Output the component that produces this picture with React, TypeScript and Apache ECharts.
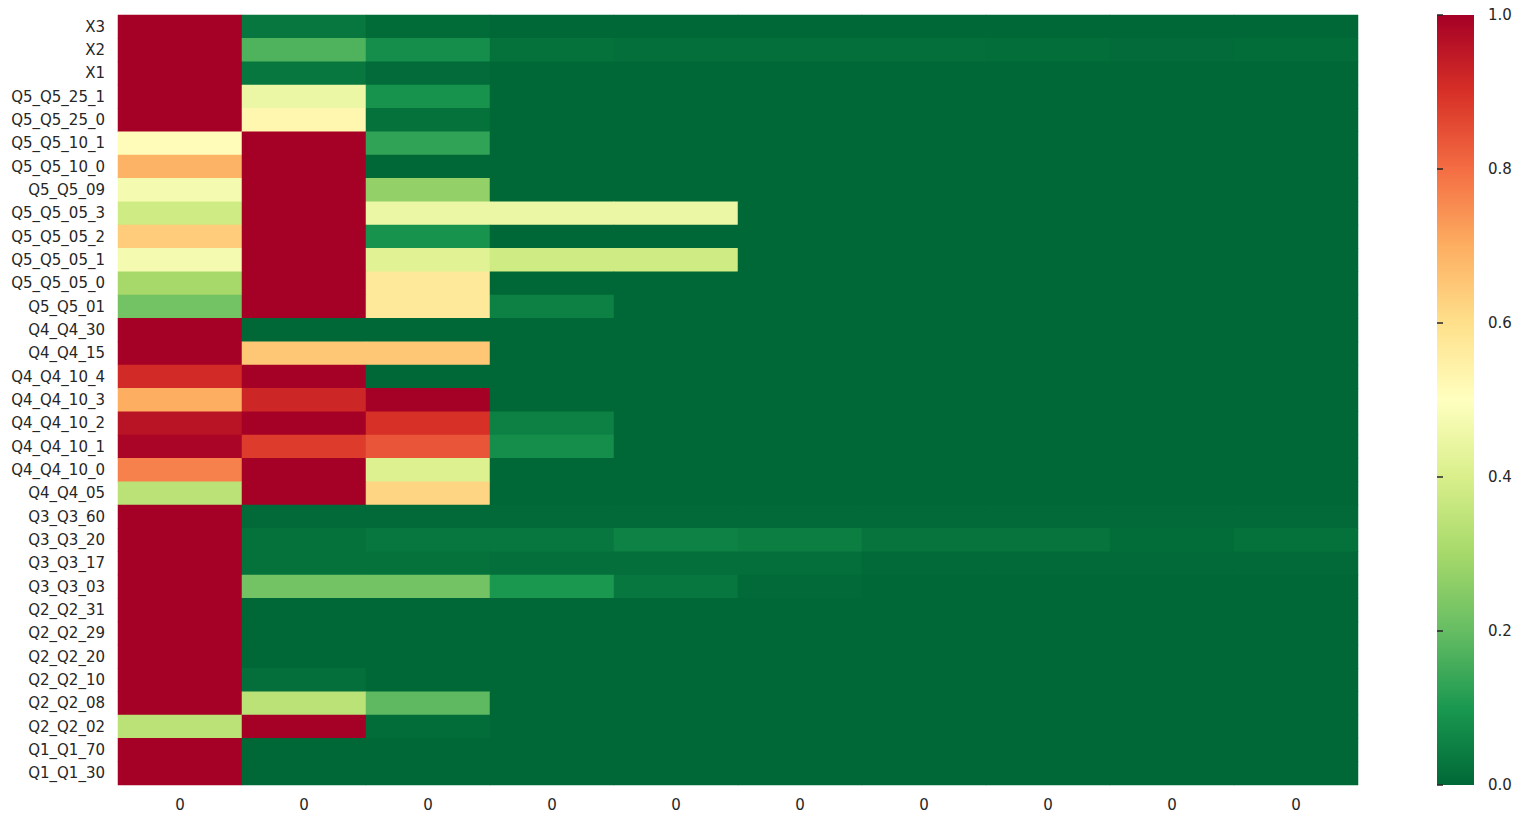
import React, { useEffect, useRef } from "react";
import * as echarts from "echarts";

const rowLabels: string[] = [
  "X3", "X2", "X1", "Q5_Q5_25_1", "Q5_Q5_25_0", "Q5_Q5_10_1", "Q5_Q5_10_0", "Q5_Q5_09",
  "Q5_Q5_05_3", "Q5_Q5_05_2", "Q5_Q5_05_1", "Q5_Q5_05_0", "Q5_Q5_01", "Q4_Q4_30", "Q4_Q4_15",
  "Q4_Q4_10_4", "Q4_Q4_10_3", "Q4_Q4_10_2", "Q4_Q4_10_1", "Q4_Q4_10_0", "Q4_Q4_05",
  "Q3_Q3_60", "Q3_Q3_20", "Q3_Q3_17", "Q3_Q3_03", "Q2_Q2_31", "Q2_Q2_29", "Q2_Q2_20",
  "Q2_Q2_10", "Q2_Q2_08", "Q2_Q2_02", "Q1_Q1_70", "Q1_Q1_30",
];

const colLabels: string[] = ["0", "0", "0", "0", "0", "0", "0", "0", "0", "0"];

const colorbarTicks: number[] = [0, 0.2, 0.4, 0.6, 0.8, 1.0];

// RdYlGn reversed: value 0 -> dark green, value 1 -> dark red
const palette: string[] = [
  "#006837", "#1a9850", "#66bd63", "#a6d96a", "#d9ef8b", "#ffffbf",
  "#fee08b", "#fdae61", "#f46d43", "#d73027", "#a50026",
];

const rowX3 = [1, 0.03, 0.008, 0, 0, 0, 0, 0, 0, 0];
const rowX2 = [1, 0.17, 0.08, 0.02, 0.015, 0.015, 0.015, 0.012, 0.006, 0.01];
const rowX1 = [1, 0.03, 0.006, 0, 0, 0, 0, 0, 0, 0];
const rowQ5_25_1 = [1, 0.45, 0.09, 0, 0, 0, 0, 0, 0, 0];
const rowQ5_25_0 = [1, 0.53, 0.02, 0, 0, 0, 0, 0, 0, 0];
const rowQ5_10_1 = [0.51, 1, 0.13, 0, 0, 0, 0, 0, 0, 0];
const rowQ5_10_0 = [0.69, 1, 0.0, 0, 0, 0, 0, 0, 0, 0];
const rowQ5_09 = [0.47, 1, 0.27, 0, 0, 0, 0, 0, 0, 0];
const rowQ5_05_3 = [0.38, 1, 0.45, 0.45, 0.45, 0, 0, 0, 0, 0];
const rowQ5_05_2 = [0.64, 1, 0.09, 0, 0, 0, 0, 0, 0, 0];
const rowQ5_05_1 = [0.47, 1, 0.42, 0.38, 0.38, 0, 0, 0, 0, 0];
const rowQ5_05_0 = [0.3, 1, 0.57, 0, 0, 0, 0, 0, 0, 0];
const rowQ5_01 = [0.22, 1, 0.57, 0.05, 0, 0, 0, 0, 0, 0];
const rowQ4_30 = [1, 0, 0, 0, 0, 0, 0, 0, 0, 0];
const rowQ4_15 = [1, 0.65, 0.65, 0, 0, 0, 0, 0, 0, 0];
const rowQ4_10_4 = [0.91, 1, 0, 0, 0, 0, 0, 0, 0, 0];
const rowQ4_10_3 = [0.7, 0.92, 1, 0, 0, 0, 0, 0, 0, 0];
const rowQ4_10_2 = [0.96, 1, 0.9, 0.05, 0, 0, 0, 0, 0, 0];
const rowQ4_10_1 = [0.99, 0.88, 0.84, 0.08, 0, 0, 0, 0, 0, 0];
const rowQ4_10_0 = [0.77, 1, 0.41, 0, 0, 0, 0, 0, 0, 0];
const rowQ4_05 = [0.34, 1, 0.62, 0, 0, 0, 0, 0, 0, 0];
const rowQ3_60 = [1, 0.005, 0.005, 0.005, 0.005, 0.005, 0.005, 0.005, 0.005, 0.005];
const rowQ3_20 = [1, 0.02, 0.03, 0.03, 0.055, 0.045, 0.025, 0.025, 0.01, 0.02];
const rowQ3_17 = [1, 0.02, 0.02, 0.015, 0.015, 0.015, 0.005, 0.005, 0.005, 0.005];
const rowQ3_03 = [1, 0.22, 0.22, 0.1, 0.03, 0.005, 0, 0, 0, 0];
const rowQ2_31 = [1, 0, 0, 0, 0, 0, 0, 0, 0, 0];
const rowQ2_29 = [1, 0, 0, 0, 0, 0, 0, 0, 0, 0];
const rowQ2_20 = [1, 0, 0, 0, 0, 0, 0, 0, 0, 0];
const rowQ2_10 = [1, 0.015, 0, 0, 0, 0, 0, 0, 0, 0];
const rowQ2_08 = [1, 0.34, 0.19, 0, 0, 0, 0, 0, 0, 0];
const rowQ2_02 = [0.34, 1, 0.01, 0, 0, 0, 0, 0, 0, 0];
const rowQ1_70 = [1, 0, 0, 0, 0, 0, 0, 0, 0, 0];
const rowQ1_30 = [1, 0, 0, 0, 0, 0, 0, 0, 0, 0];

const matrix: number[][] = [
  rowX3, rowX2, rowX1, rowQ5_25_1, rowQ5_25_0, rowQ5_10_1, rowQ5_10_0, rowQ5_09,
  rowQ5_05_3, rowQ5_05_2, rowQ5_05_1, rowQ5_05_0, rowQ5_01, rowQ4_30, rowQ4_15,
  rowQ4_10_4, rowQ4_10_3, rowQ4_10_2, rowQ4_10_1, rowQ4_10_0, rowQ4_05,
  rowQ3_60, rowQ3_20, rowQ3_17, rowQ3_03, rowQ2_31, rowQ2_29, rowQ2_20,
  rowQ2_10, rowQ2_08, rowQ2_02, rowQ1_70, rowQ1_30,
];

const TEXT = "#262626";
const FONT = "DejaVu Sans";
const FS = 15;

export default function App() {
  const ref = useRef<HTMLDivElement>(null);

  useEffect(() => {
    document.body.style.margin = "0";
    if (!ref.current) return;
    const chart = echarts.init(ref.current, undefined, { renderer: "svg" });

    const data: number[][] = [];
    matrix.forEach((row, r) => {
      row.forEach((v, c) => data.push([c, r, v]));
    });

    const plotTop = 15;
    const plotHeight = 770;
    const cbLeft = 1437;
    const cbWidth = 37;

    const stops = palette
      .slice()
      .reverse()
      .map((color, i) => ({ offset: i / (palette.length - 1), color }));

    chart.setOption({
      animation: false,
      backgroundColor: "#ffffff",
      grid: [
        { left: 118, top: plotTop, width: 1240, height: plotHeight },
        { left: cbLeft, top: plotTop, width: cbWidth, height: plotHeight },
      ],
      xAxis: [
        {
          type: "category",
          gridIndex: 0,
          data: colLabels.map((_, i) => String(i)),
          axisLine: { show: false },
          axisTick: { show: false },
          splitLine: { show: false },
          axisLabel: {
            formatter: (_v: string, idx: number) => colLabels[idx],
            color: TEXT,
            fontFamily: FONT,
            fontSize: FS,
            margin: 12,
          },
        },
        { type: "value", gridIndex: 1, show: false, min: 0, max: 1 },
      ],
      yAxis: [
        {
          type: "category",
          gridIndex: 0,
          inverse: true,
          data: rowLabels,
          axisLine: { show: false },
          axisTick: { show: false },
          splitLine: { show: false },
          axisLabel: {
            color: TEXT,
            fontFamily: FONT,
            fontSize: FS,
            margin: 13,
            interval: 0,
          },
        },
        {
          type: "value",
          gridIndex: 1,
          position: "right",
          min: colorbarTicks[0],
          max: colorbarTicks[colorbarTicks.length - 1],
          interval: 0.2,
          axisLine: { show: false },
          axisTick: { show: true, length: 6, lineStyle: { color: TEXT, width: 1.5 } },
          splitLine: { show: false },
          axisLabel: {
            formatter: (v: number) => v.toFixed(1),
            color: TEXT,
            fontFamily: FONT,
            fontSize: FS,
            margin: 14,
          },
        },
      ],
      visualMap: {
        show: false,
        type: "continuous",
        min: 0,
        max: 1,
        dimension: 2,
        seriesIndex: 0,
        inRange: { color: palette },
      },
      graphic: [
        {
          type: "rect",
          left: cbLeft,
          top: plotTop,
          z: 0,
          shape: { width: cbWidth, height: plotHeight },
          style: {
            fill: new echarts.graphic.LinearGradient(0, 0, 0, 1, stops),
          },
        },
      ],
      series: [
        {
          type: "heatmap",
          xAxisIndex: 0,
          yAxisIndex: 0,
          data,
          itemStyle: { borderWidth: 0 },
          emphasis: { disabled: true },
          progressive: 0,
        },
        {
          type: "scatter",
          xAxisIndex: 1,
          yAxisIndex: 1,
          data: [],
        },
      ],
    });

    return () => chart.dispose();
  }, []);

  return <div ref={ref} style={{ width: 1521, height: 824 }} />;
}
